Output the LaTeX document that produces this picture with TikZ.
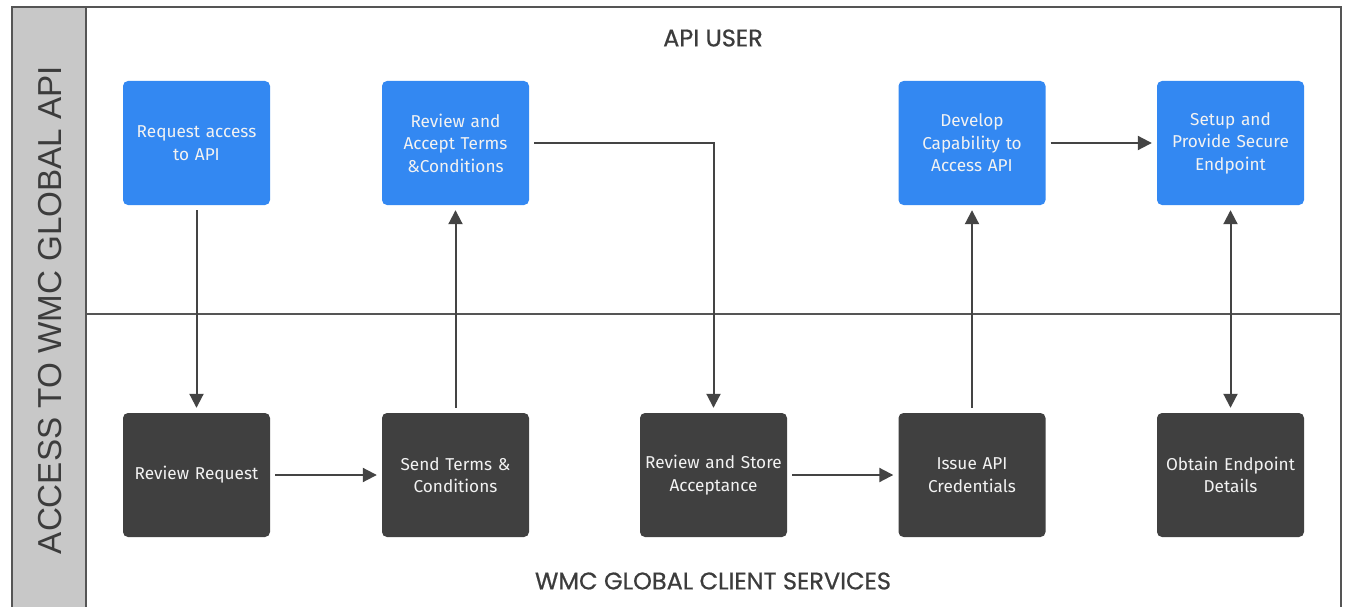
\documentclass[tikz,border=0pt]{standalone}
\usepackage{fontspec}
\setmainfont{Fira Sans}
\newfontfamily\titlefont[FakeBold=0.7]{Poppins}
\newfontfamily\sidefont{Liberation Sans}
\usetikzlibrary{arrows.meta}
\definecolor{frameC}{HTML}{555555}
\definecolor{bandC}{HTML}{C8C8C8}
\definecolor{blueC}{HTML}{3388F2}
\definecolor{darkC}{HTML}{404040}
\definecolor{arrowC}{HTML}{444444}
\definecolor{boxtxt}{HTML}{F2F2F2}
\definecolor{titleC}{HTML}{3C3C3C}
\tikzset{
  box/.style={rounded corners=5pt, minimum width=147pt, minimum height=124pt,
    inner sep=0pt, text width=145pt, align=center, text=boxtxt,
    font=\fontsize{17.2}{22.5}\selectfont},
  bluebox/.style={box, fill=blueC},
  darkbox/.style={box, fill=darkC},
  flow/.style={draw=arrowC, line width=2pt, -{Triangle[length=14pt,width=14pt]},
    shorten <=5pt, shorten >=5pt},
  both/.style={draw=arrowC, line width=2pt, {Triangle[length=14pt,width=14pt]}-{Triangle[length=14pt,width=14pt]},
    shorten <=5pt, shorten >=5pt},
  frame/.style={draw=frameC, line width=2pt},
  lanetitle/.style={font=\titlefont\fontsize{24}{28}\selectfont, text=titleC, inner sep=0pt},
}
\begin{document}
\begin{tikzpicture}[x=1pt,y=-1pt]
\useasboundingbox (0,0) rectangle (1347,607);
\fill[white] (0,0) rectangle (1347,607);
% band
\fill[bandC] (12,7) rectangle (86,610);
\draw[frame] (12,612) -- (12,7) -- (1341,7) -- (1341,612);
\draw[frame] (86,7) -- (86,612);
\draw[frame] (86,314) -- (1341,314);
\node[font=\sidefont\fontsize{33.2}{40}\selectfont, text=titleC, rotate=90, inner sep=0pt] (side) at (50,310) {ACCESS TO WMC GLOBAL API};
\node[lanetitle] (user) at (713,38) {API USER};
\node[lanetitle] (svc) at (713,581) {WMC GLOBAL CLIENT SERVICES};
% top row
\node[bluebox] (req) at (196.5,143) {Request access\\to API};
\node[bluebox] (rat) at (455.5,143) {Review and\\Accept Terms\\\&Conditions};
\node[bluebox] (dev) at (972,143) {Develop\\Capability to\\Access API};
\node[bluebox] (set) at (1230.5,143) {Setup and\\Provide Secure\\Endpoint};
% bottom row
\node[darkbox] (rr) at (196.5,475) {Review Request};
\node[darkbox] (st) at (455.5,475) {Send Terms \&\\Conditions};
\node[darkbox] (rs) at (713.5,475) {Review and Store\\Acceptance};
\node[darkbox] (ic) at (972,475) {Issue API\\Credentials};
\node[darkbox] (oe) at (1230.5,475) {Obtain Endpoint\\Details};
% connectors
\draw[flow] (req.south) -- (rr.north);
\draw[flow] (rr.east) -- (st.west);
\draw[flow] (st.north) -- (rat.south);
\draw[flow] (rat.east) -| (rs.north);
\draw[flow] (rs.east) -- (ic.west);
\draw[flow] (ic.north) -- (dev.south);
\draw[flow] (dev.east) -- (set.west);
\draw[both] (set.south) -- (oe.north);
\end{tikzpicture}
\end{document}
